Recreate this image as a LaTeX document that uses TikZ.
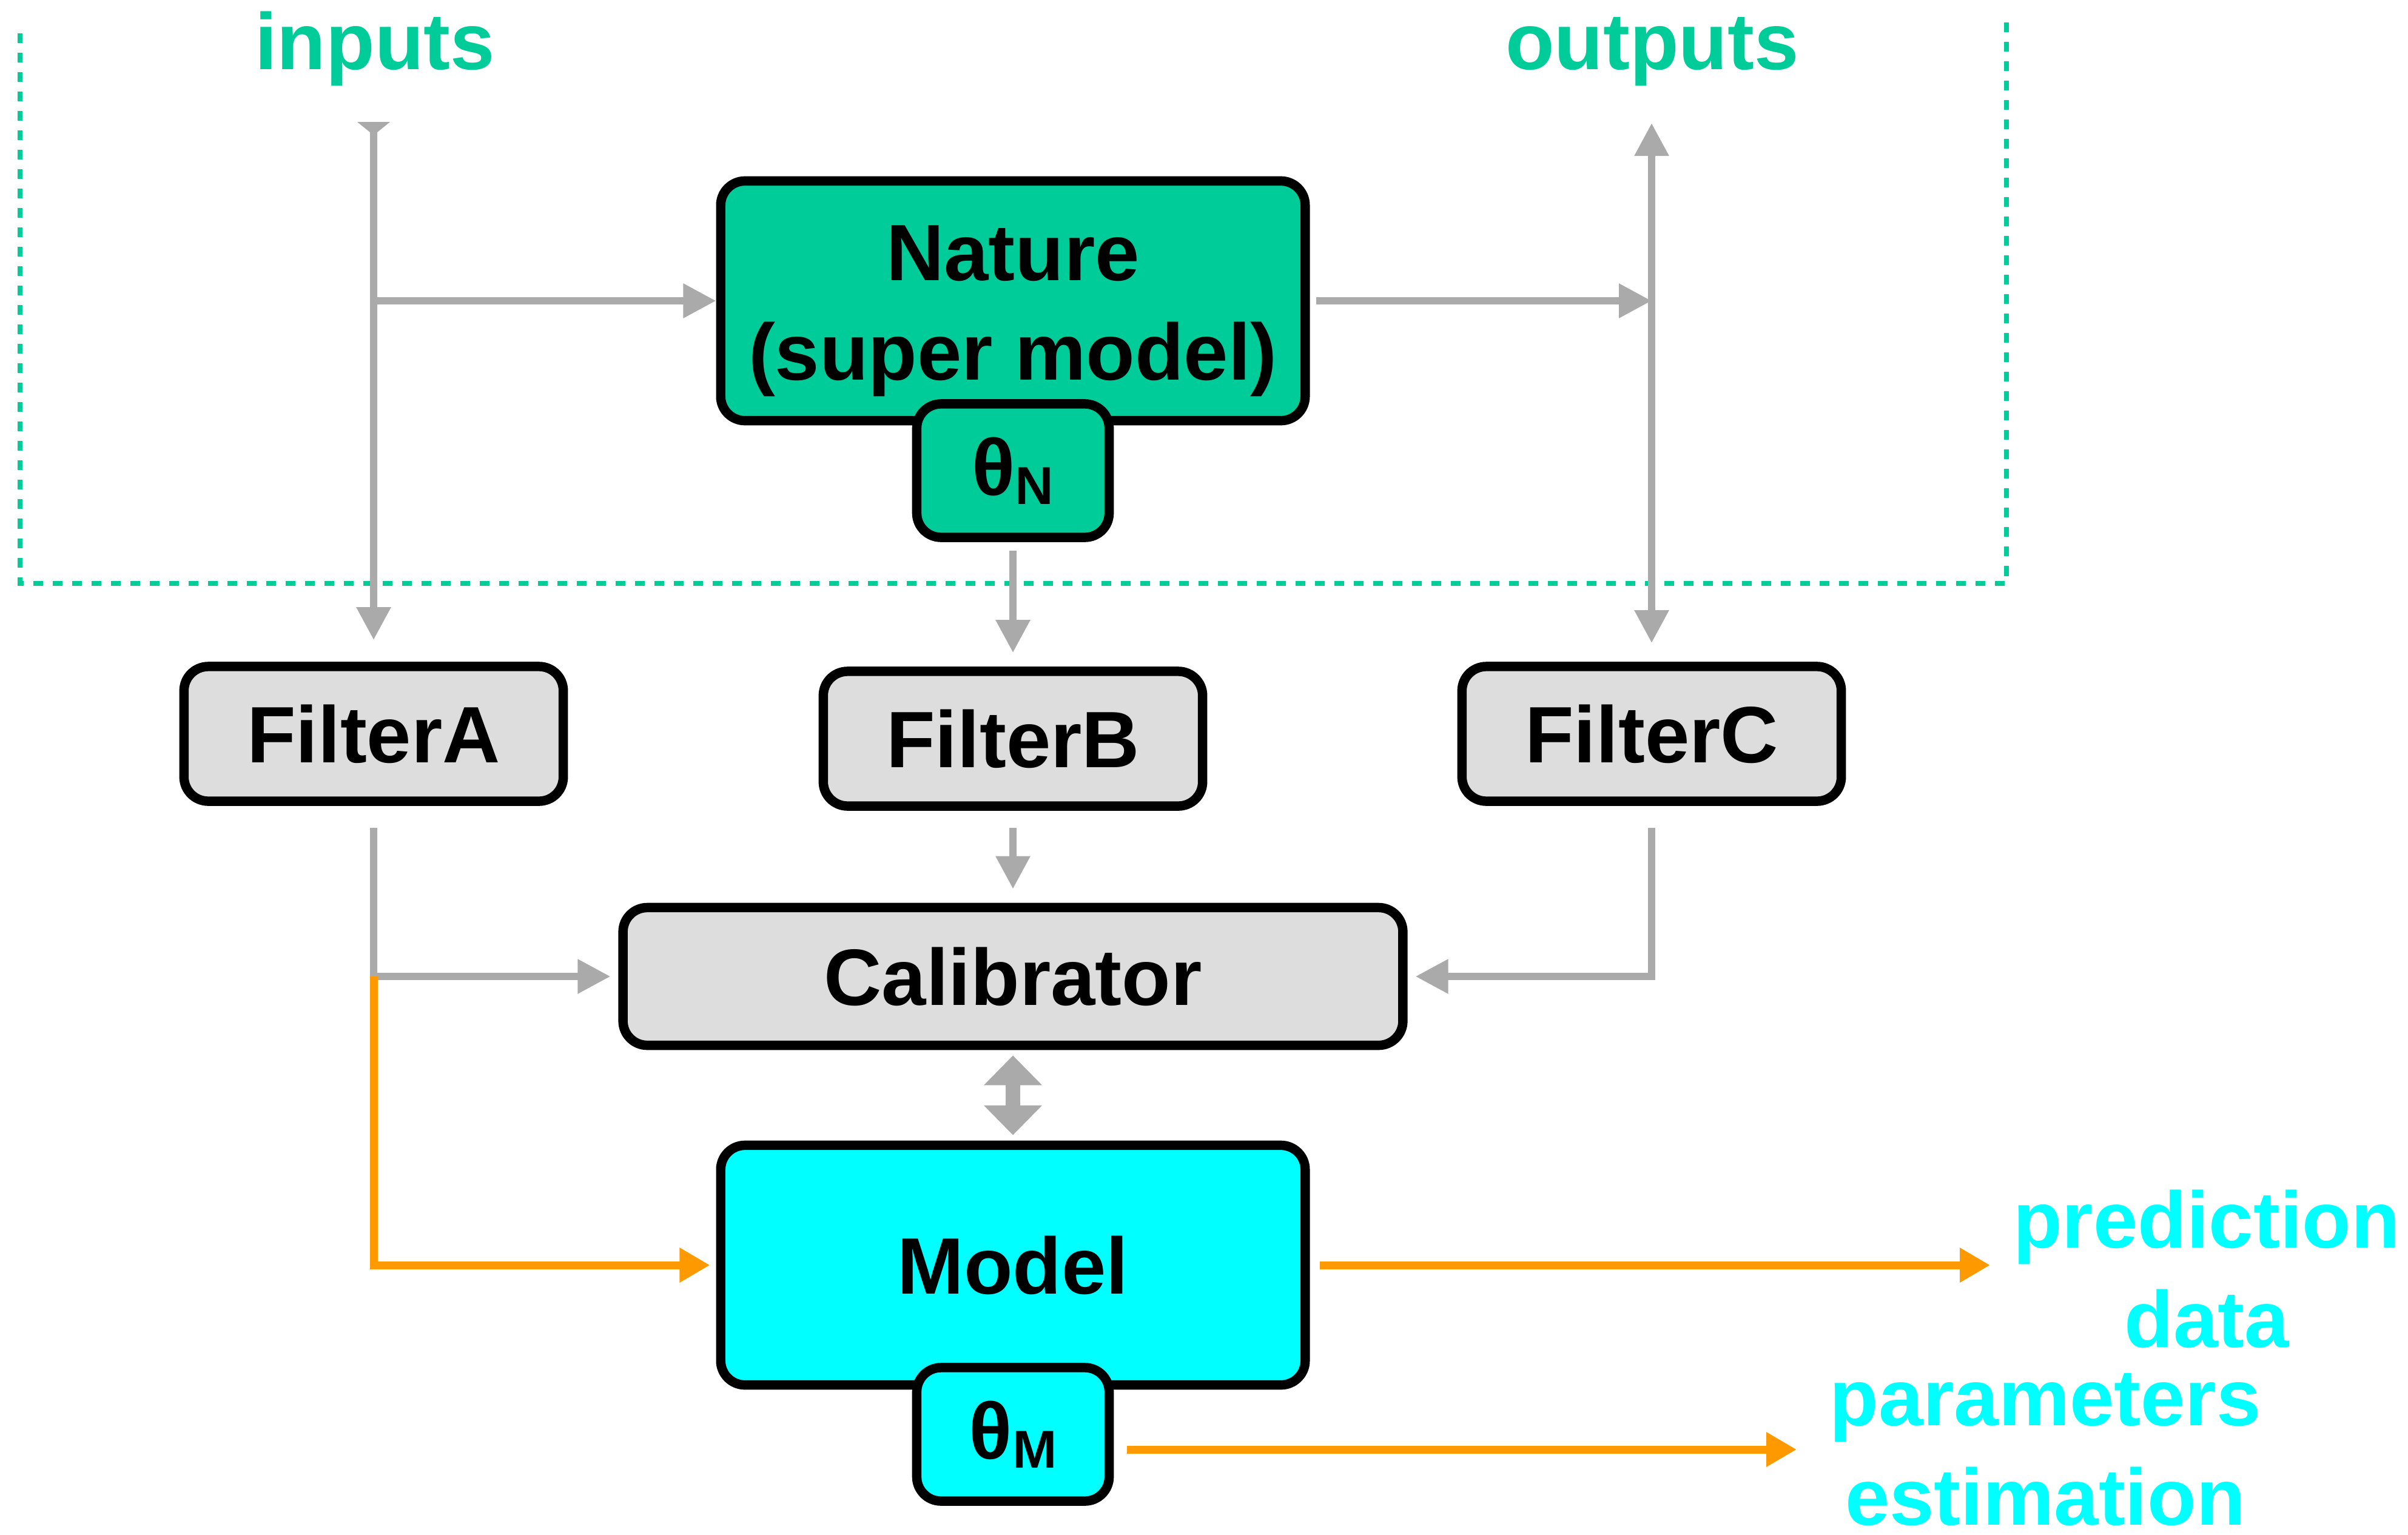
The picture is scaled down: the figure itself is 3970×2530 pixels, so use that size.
\documentclass[tikz,border=0pt]{standalone}
\usepackage{fontspec}
\setmainfont{Liberation Sans}
\usetikzlibrary{arrows.meta}
\definecolor{natgreen}{HTML}{00CC99}
\definecolor{mcyan}{HTML}{00FFFF}
\definecolor{agray}{HTML}{AAAAAA}
\definecolor{fgray}{HTML}{DDDDDD}
\definecolor{aorange}{HTML}{FF9900}
\begin{document}
\begin{tikzpicture}[x=0.01cm,y=-0.01cm,
  box/.style={draw=black, line width=4.4pt, rounded corners=0.4cm, align=center,
    font=\bfseries\fontsize{37.5}{46.5}\selectfont, inner sep=0pt},
  gtip/.style={-{Triangle[length=0.54cm,width=0.54cm]}},
  garrow/.style={draw=agray, line width=0.12cm, gtip},
  oarrow/.style={draw=aorange, line width=0.13cm, -{Triangle[length=0.5cm,width=0.54cm]}},
  lbl/.style={font=\bfseries\fontsize{37.5}{46.5}\selectfont, inner sep=0pt},
]
\useasboundingbox (0,0) rectangle (3970,2530);

% dashed region
\draw[natgreen, line width=0.08cm, dash pattern=on 0.16cm off 0.16cm]
  (33,55) -- (33,962) -- (3308,962) -- (3308,25);

% labels
\node[lbl, text=natgreen, anchor=base] (inputs) at (618,114) {inputs};
\node[lbl, text=natgreen, anchor=base] (outputs) at (2724,114) {outputs};
\node[lbl, text=mcyan, align=center, anchor=base] (pred) at (3638,2221) {prediction\\data};
\node[lbl, text=mcyan, align=center, anchor=base] (param) at (3372,2514) {parameters\\estimation};

% boxes
\node[box, fill=natgreen, minimum width=9.63cm, minimum height=3.95cm] (N) at (1670,496)
  {\rule{0pt}{1.24cm}Nature\\(super model)};
\node[box, fill=natgreen, minimum width=3.17cm, minimum height=2.2cm] (tN) at (1670,776)
  {θ\raisebox{-0.15cm}{\fontsize{25}{25}\selectfont N}};
\node[box, fill=fgray, minimum width=6.25cm, minimum height=2.22cm] (FA) at (616,1210) {FilterA};
\node[box, fill=fgray, minimum width=6.25cm, minimum height=2.22cm] (FB) at (1670,1218) {FilterB};
\node[box, fill=fgray, minimum width=6.25cm, minimum height=2.22cm] (FC) at (2723,1210) {FilterC};
\node[box, fill=fgray, minimum width=12.85cm, minimum height=2.27cm] (Cal) at (1670,1610) {Calibrator};
\node[box, fill=mcyan, minimum width=9.63cm, minimum height=3.95cm] (M) at (1670,2086) {Model};
\node[box, fill=mcyan, minimum width=3.17cm, minimum height=2.2cm] (tM) at (1670,2365)
  {θ\raisebox{-0.15cm}{\fontsize{25}{25}\selectfont M}};

% coordinates
\coordinate (inTop) at (616,201);
\coordinate (inJ) at (616,496);
\coordinate (outTop) at (2723,203);
\coordinate (outJ) at (2723,496);
\coordinate (predEnd) at (3281,2086);
\coordinate (paramEnd) at (2962,2390);

% gray connectors
\draw[draw=agray, line width=0.12cm,
  {Triangle[reversed,length=0.22cm,width=0.53cm]}-{Triangle[length=0.54cm,width=0.54cm]},
  shorten >=0.36cm] (inTop) -- (FA.north);
\draw[garrow] (inJ) -- (N.west);
\draw[garrow, shorten <=0.1cm] (N.east) -- (outJ);
\draw[draw=agray, line width=0.12cm,
  {Triangle[length=0.54cm,width=0.54cm]}-{Triangle[length=0.54cm,width=0.54cm]},
  shorten >=0.31cm] (outTop) -- (FC.north);
\draw[garrow, shorten <=0.14cm, shorten >=0.23cm] (tN.south) -- (FB.north);
\draw[garrow, shorten <=0.28cm, shorten >=0.23cm] (FB.south) -- (Cal.north);
\draw[garrow, shorten <=0.36cm, shorten >=0.13cm] (FA.south) |- (Cal.west);
\draw[garrow, shorten <=0.36cm, shorten >=0.13cm] (FC.south) |- (Cal.east);
\draw[draw=agray, line width=0.24cm,
  {Triangle[length=0.49cm,width=0.93cm]}-{Triangle[length=0.49cm,width=0.93cm]},
  shorten <=0.09cm, shorten >=0.09cm] (Cal.south) -- (M.north);

% orange connectors
\coordinate (aJ) at (FA.south |- Cal.west);
\draw[oarrow, shorten >=0.1cm] (aJ) |- (M.west);
\draw[oarrow, shorten <=0.16cm] (M.east) -- (predEnd);
\draw[oarrow, shorten <=0.22cm] (tM.east |- paramEnd) -- (paramEnd);
\end{tikzpicture}
\end{document}
